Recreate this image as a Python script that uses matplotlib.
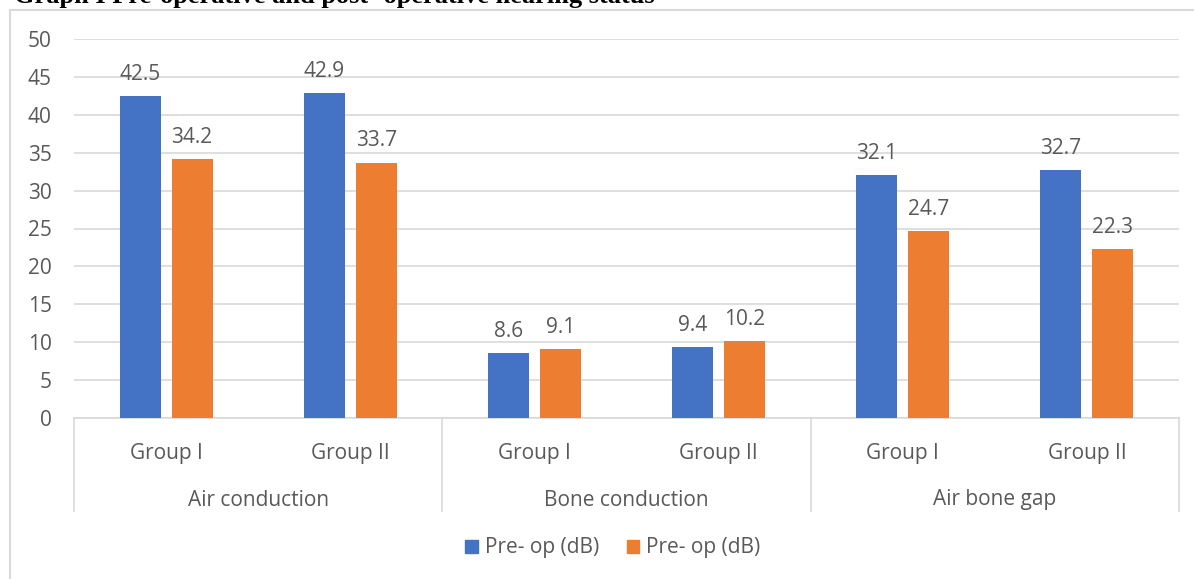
import matplotlib.pyplot as plt
from matplotlib.lines import Line2D
from matplotlib.patches import Patch
import numpy as np

groups = ["Air conduction", "Bone conduction", "Air bone gap"]
subgroups = ["Group I", "Group II"]
pre_op = [42.5, 42.9, 8.6, 9.4, 32.1, 32.7]
post_op = [34.2, 33.7, 9.1, 10.2, 24.7, 22.3]
series_labels = ["Pre- op (dB)", "Pre- op (dB)"]
yticks = [0, 5, 10, 15, 20, 25, 30, 35, 40, 45, 50]

BLUE = "#4472C4"
ORANGE = "#ED7D31"
TXT = "#595959"
GRID = "#D9D9D9"
FS = 15

plt.rcParams['font.family'] = ['Open Sans', 'DejaVu Sans']

W, H = 1194, 579
fig = plt.figure(figsize=(W / 100, H / 100), dpi=100)

# outer chart frame
fig.add_artist(Line2D([10 / W, 10 / W], [0, 1 - 10 / H], color=GRID, lw=1.5, transform=fig.transFigure))
fig.add_artist(Line2D([10 / W, 1], [1 - 10 / H, 1 - 10 / H], color=GRID, lw=1.5, transform=fig.transFigure))

fig.text(14 / W, 1 - 3 / H, "Graph I Pre-operative and post- operative hearing status",
         family="Liberation Serif", weight="bold", fontsize=19, va="baseline", ha="left")

ax = fig.add_axes([74 / W, 1 - 418 / H, (1179 - 74) / W, (418 - 39) / H])

x = np.arange(len(pre_op))
bw = 0.223
off = 0.141
b1 = ax.bar(x - off, pre_op, bw, color=BLUE, zorder=3)
b2 = ax.bar(x + off, post_op, bw, color=ORANGE, zorder=3)

for bars, vals in ((b1, pre_op), (b2, post_op)):
    for rect, v in zip(bars, vals):
        ax.annotate(f"{v}", (rect.get_x() + rect.get_width() / 2, v),
                    xytext=(0, 8), textcoords="offset points",
                    ha="center", va="bottom", fontsize=FS, color=TXT)

ax.set_xlim(-0.5, len(pre_op) - 0.5)
ax.set_ylim(0, 50)
ax.set_yticks(yticks)
ax.yaxis.grid(True, color=GRID, lw=1.2)
ax.set_axisbelow(True)
ax.tick_params(axis="y", length=0, labelsize=FS, labelcolor=TXT, pad=16)
ax.set_xticks([])
for s in ("left", "right", "top"):
    ax.spines[s].set_visible(False)
ax.spines["bottom"].set_color(GRID)
ax.spines["bottom"].set_linewidth(1.2)

trans = ax.get_xaxis_transform()
axh = (418 - 39)
def ay(px_below):
    return -px_below / axh

# subgroup labels
for i in x:
    ax.text(i, ay(35), subgroups[i % 2], transform=trans, ha="center", va="center",
            fontsize=FS, color=TXT)
# group labels and separators
for g, name in enumerate(groups):
    ax.text(2 * g + 0.5, ay(82), name, transform=trans, ha="center", va="center",
            fontsize=FS, color=TXT)
for sep in np.arange(-0.5, len(pre_op), 2):
    ax.add_line(Line2D([sep, sep], [0, ay(93)], transform=trans, color=GRID,
                       lw=1.2, clip_on=False))

handles = [Patch(color=BLUE, label=series_labels[0]), Patch(color=ORANGE, label=series_labels[1])]
leg = fig.legend(handles=handles, loc="center", bbox_to_anchor=(613 / W, 31 / H), ncol=2,
                 frameon=False, fontsize=FS, handlelength=0.6, handleheight=0.6,
                 handletextpad=0.35, columnspacing=1.3)
for t in leg.get_texts():
    t.set_color(TXT)

fig.savefig("out.png", dpi=100)
